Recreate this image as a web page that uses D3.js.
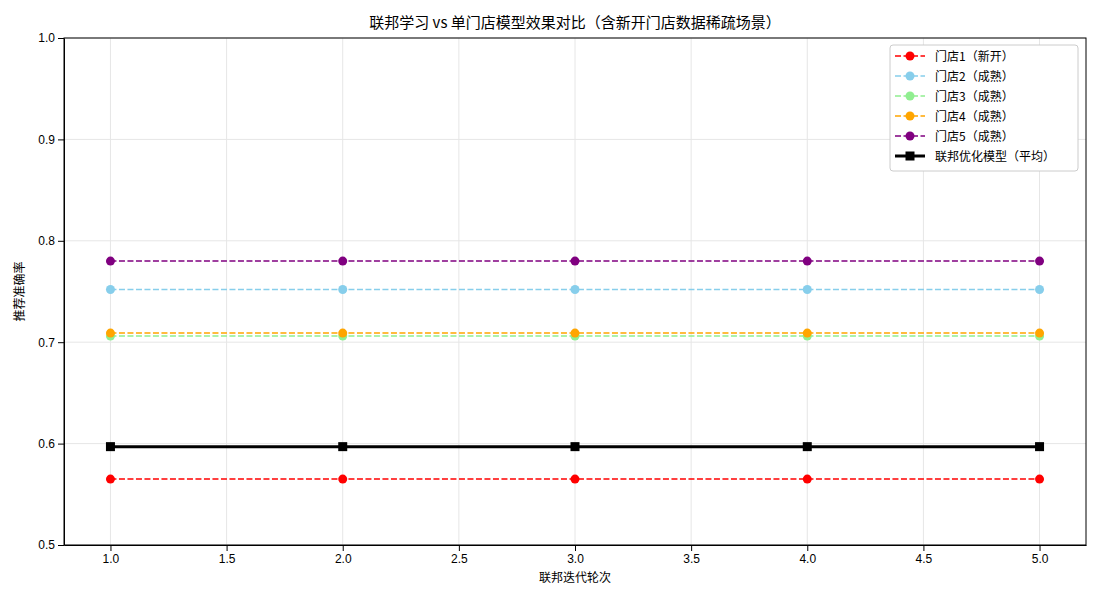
<!DOCTYPE html>
<html><head><meta charset="utf-8">
<script src="https://cdn.jsdelivr.net/npm/d3@7"></script>
<style>body{margin:0;background:#fff;font-family:"Noto Sans CJK SC","DejaVu Sans",sans-serif;}</style>
</head><body><div id="chart"></div>
<script>
// data
var rounds = [1, 2, 3, 4, 5];
var store1 = [0.565, 0.565, 0.565, 0.565, 0.565];
var store2 = [0.752, 0.752, 0.752, 0.752, 0.752];
var store3 = [0.706, 0.706, 0.706, 0.706, 0.706];
var store4 = [0.709, 0.709, 0.709, 0.709, 0.709];
var store5 = [0.780, 0.780, 0.780, 0.780, 0.780];
var fedAvg = [0.597, 0.597, 0.597, 0.597, 0.597];
var xTicks = [1.0, 1.5, 2.0, 2.5, 3.0, 3.5, 4.0, 4.5, 5.0];
var yTicks = [0.5, 0.6, 0.7, 0.8, 0.9, 1.0];

var series = [
  {name: "门店1（新开）", values: store1, color: "red", dash: true},
  {name: "门店2（成熟）", values: store2, color: "skyblue", dash: true},
  {name: "门店3（成熟）", values: store3, color: "lightgreen", dash: true},
  {name: "门店4（成熟）", values: store4, color: "orange", dash: true},
  {name: "门店5（成熟）", values: store5, color: "purple", dash: true},
  {name: "联邦优化模型（平均）", values: fedAvg, color: "black", dash: false}
];

var margin = {top: 38, right: 14, bottom: 55, left: 64},
    width = 1100 - margin.left - margin.right,
    height = 600 - margin.top - margin.bottom;

var svg = d3.select("#chart").append("svg")
    .attr("width", 1100).attr("height", 600);
var g = svg.append("g")
    .attr("transform", "translate(" + margin.left + "," + margin.top + ")");

var x = d3.scaleLinear().domain([0.8, 5.2]).range([0, width]);
var y = d3.scaleLinear().domain([0.5, 1.0]).range([height, 0]);

// grid
g.selectAll(".gx").data(xTicks).enter().append("line")
    .attr("x1", d => x(d)).attr("x2", d => x(d)).attr("y1", 0).attr("y2", height)
    .style("stroke", "#e6e6e6");
g.selectAll(".gy").data(yTicks).enter().append("line")
    .attr("y1", d => y(d)).attr("y2", d => y(d)).attr("x1", 0).attr("x2", width)
    .style("stroke", "#e6e6e6");

g.append("g").attr("transform", "translate(0," + height + ")")
    .call(d3.axisBottom(x).tickValues(xTicks).tickFormat(d3.format(".1f")).tickSizeOuter(0))
    .call(a => a.selectAll("text").style("font-size", "12px").style("fill", "#000"));
g.append("g")
    .call(d3.axisLeft(y).tickValues(yTicks).tickFormat(d3.format(".1f")).tickSizeOuter(0))
    .call(a => a.selectAll("text").style("font-size", "12px").style("fill", "#000"));
g.append("rect").attr("width", width).attr("height", height)
    .style("fill", "none").style("stroke", "#000");

var line = d3.line().x((d, i) => x(rounds[i])).y(d => y(d));

series.forEach(function (s) {
  g.append("path").datum(s.values).attr("d", line)
      .style("fill", "none").style("stroke", s.color)
      .style("stroke-width", s.dash ? 1.5 : 3)
      .style("stroke-dasharray", s.dash ? "6,2.5" : null);
  if (s.dash) {
    g.selectAll(null).data(s.values).enter().append("circle")
        .attr("cx", (d, i) => x(rounds[i])).attr("cy", d => y(d)).attr("r", 4.5)
        .style("fill", s.color);
  } else {
    g.selectAll(null).data(s.values).enter().append("rect")
        .attr("x", (d, i) => x(rounds[i]) - 4.5).attr("y", d => y(d) - 4.5)
        .attr("width", 9).attr("height", 9).style("fill", s.color);
  }
});

// titles
svg.append("text").attr("x", margin.left + width / 2).attr("y", 28)
    .attr("text-anchor", "middle").style("font-size", "15px")
    .text("联邦学习 vs 单门店模型效果对比（含新开门店数据稀疏场景）");
svg.append("text").attr("x", margin.left + width / 2).attr("y", 582)
    .attr("text-anchor", "middle").style("font-size", "12px").text("联邦迭代轮次");
svg.append("text").attr("transform", "translate(24," + (margin.top + height / 2) + ") rotate(-90)")
    .attr("text-anchor", "middle").style("font-size", "12px").text("推荐准确率");

// legend
var lg = svg.append("g").attr("transform", "translate(890,45)");
lg.append("rect").attr("width", 188).attr("height", 126).attr("rx", 3)
    .style("fill", "#fff").style("stroke", "#ccc");
series.forEach(function (s, i) {
  var yy = 11 + i * 20;
  lg.append("line").attr("x1", 5).attr("x2", 35).attr("y1", yy).attr("y2", yy)
      .style("stroke", s.color).style("stroke-width", s.dash ? 1.5 : 3)
      .style("stroke-dasharray", s.dash ? "6,2.5" : null);
  if (s.dash) lg.append("circle").attr("cx", 20).attr("cy", yy).attr("r", 4.5).style("fill", s.color);
  else lg.append("rect").attr("x", 15.5).attr("y", yy - 4.5).attr("width", 9).attr("height", 9).style("fill", s.color);
  lg.append("text").attr("x", 45).attr("y", yy + 4.5).style("font-size", "12px").text(s.name);
});
</script></body></html>
